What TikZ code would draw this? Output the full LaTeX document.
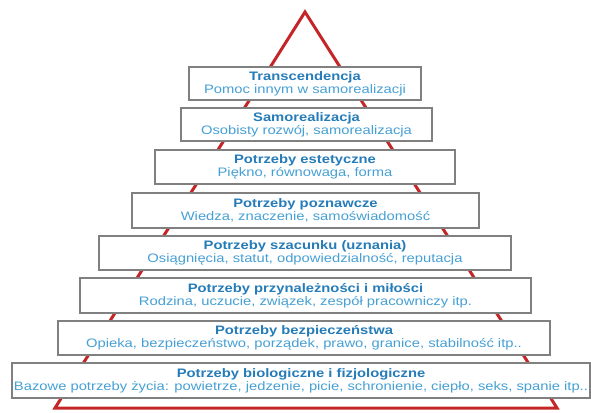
\documentclass[tikz,border=0pt]{standalone}
\usepackage{fontspec}
\setmainfont{Liberation Sans}[FakeStretch=1.2]
\usepackage{xcolor}
\usepackage{tikz}
\usetikzlibrary{arrows,calc}

\definecolor{pyrred}{RGB}{196,38,40}
\definecolor{boxgray}{RGB}{128,128,128}
\definecolor{titleblue}{RGB}{38,124,184}
\definecolor{subblue}{RGB}{70,160,212}

\newcommand{\lvl}[2]{{\bfseries\color{titleblue}#1}\\{\color{subblue}#2}}

\begin{document}
\begin{tikzpicture}[x=1pt,y=-1pt,
        level/.style={draw=boxgray,line width=1.3pt,fill=white,align=center,
            inner sep=0pt,font=\fontsize{12.3}{13.2}\selectfont}]
        \useasboundingbox (0, 0) rectangle (591, 412);
        \coordinate (apex) at (305, 12);
        \coordinate (footl) at (55, 408);
        \coordinate (footr) at (557, 408);
        \draw [pyrred,line width=3pt,line join=miter] (apex) -- (footl) -- (footr) -- cycle;
        \node [level,minimum width=232pt,minimum height=33pt] (transc) at (305, 83.5)
            {\lvl{Transcendencja}{Pomoc innym w samorealizacji}};
        \node [level,minimum width=251pt,minimum height=33pt] (samoreal) at (306.5, 124.5)
            {\lvl{Samorealizacja}{Osobisty rozwój, samorealizacja}};
        \node [level,minimum width=300pt,minimum height=34pt] (estet) at (305, 167)
            {\lvl{Potrzeby estetyczne}{Piękno, równowaga, forma}};
        \node [level,minimum width=347pt,minimum height=35pt] (poznaw) at (305.5, 210.5)
            {\lvl{Potrzeby poznawcze}{Wiedza, znaczenie, samoświadomość}};
        \node [level,minimum width=412pt,minimum height=34pt] (szacun) at (305, 253)
            {\lvl{Potrzeby szacunku (uznania)}{Osiągnięcia, statut, odpowiedzialność, reputacja}};
        \node [level,minimum width=451pt,minimum height=35pt] (przynal) at (305.5, 295.5)
            {\lvl{Potrzeby przynależności i miłości}{Rodzina, uczucie, związek, zespół pracowniczy itp.}};
        \node [level,minimum width=492pt,minimum height=34pt] (bezp) at (304, 338)
            {\lvl{Potrzeby bezpieczeństwa}{Opieka, bezpieczeństwo, porządek, prawo, granice, stabilność itp..}};
        \node [level,minimum width=578pt,minimum height=35pt] (biol) at (301, 380.5)
            {\lvl{Potrzeby biologiczne i fizjologiczne}{Bazowe potrzeby życia: powietrze, jedzenie, picie, schronienie, ciepło, seks, spanie itp..}};
    \end{tikzpicture}
\end{document}
